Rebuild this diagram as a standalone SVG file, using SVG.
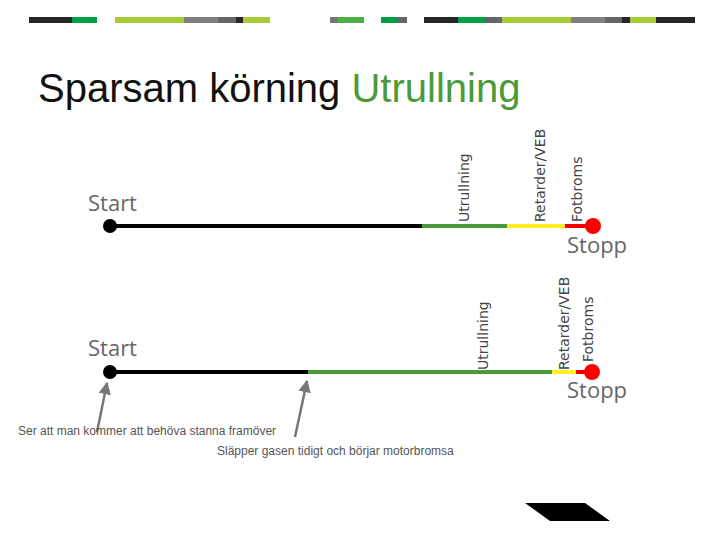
<svg xmlns="http://www.w3.org/2000/svg" width="720" height="540" viewBox="0 0 720 540">
<style>
.v{font-family:"DejaVu Sans",sans-serif;font-size:14px;fill:#444}
.s{font-family:"Open Sans","DejaVu Sans",sans-serif;font-size:22px;fill:#666}
.n{font-family:"Liberation Sans Narrow","Liberation Sans",sans-serif;font-size:12px;fill:#555}
.ln{stroke-width:4;fill:none}
</style>
<defs><marker id="ah" viewBox="0 0 10 10" refX="9" refY="5" markerWidth="5" markerHeight="5" orient="auto"><path d="M0,0L10,5L0,10z" fill="#777"/></marker></defs>
<g id="topbar">
<rect x="29" y="17" width="43" height="6" fill="#262626"/><rect x="72" y="17" width="25" height="6" fill="#00a046"/>
<rect x="115" y="17" width="69" height="6" fill="#a8cb38"/><rect x="184" y="17" width="34" height="6" fill="#808080"/>
<rect x="218" y="17" width="18" height="6" fill="#666"/><rect x="236" y="17" width="7" height="6" fill="#262626"/>
<rect x="243" y="17" width="27" height="6" fill="#a8cb38"/>
<rect x="330" y="17" width="8" height="6" fill="#777"/><rect x="338" y="17" width="26" height="6" fill="#4caf45"/>
<rect x="381" y="17" width="17" height="6" fill="#00a046"/><rect x="398" y="17" width="9" height="6" fill="#666"/>
<rect x="424" y="17" width="34" height="6" fill="#262626"/><rect x="458" y="17" width="27" height="6" fill="#00a046"/>
<rect x="485" y="17" width="17" height="6" fill="#666"/><rect x="502" y="17" width="69" height="6" fill="#a8cb38"/>
<rect x="571" y="17" width="34" height="6" fill="#808080"/><rect x="605" y="17" width="17" height="6" fill="#666"/>
<rect x="622" y="17" width="8" height="6" fill="#262626"/><rect x="630" y="17" width="26" height="6" fill="#a8cb38"/>
<rect x="656" y="17" width="39" height="6" fill="#262626"/>
</g>
<text x="38" y="102" font-family="Liberation Sans,sans-serif" font-size="40" fill="#111">Sparsam körning <tspan fill="#4a9a3a">Utrullning</tspan></text>
<g id="connectors">
<line class="ln" x1="110" y1="226" x2="422" y2="226" stroke="#000"/>
<line class="ln" x1="422" y1="226" x2="507" y2="226" stroke="#4a9a3a"/>
<line class="ln" x1="507" y1="226" x2="565" y2="226" stroke="#ffee22"/>
<line class="ln" x1="565" y1="226" x2="592" y2="226" stroke="#e00"/>
<line class="ln" x1="110" y1="372" x2="308" y2="372" stroke="#000"/>
<line class="ln" x1="308" y1="372" x2="552" y2="372" stroke="#4a9a3a"/>
<line class="ln" x1="552" y1="372" x2="576" y2="372" stroke="#ffee22"/>
<line class="ln" x1="576" y1="372" x2="592" y2="372" stroke="#e00"/>
<line x1="97" y1="432" x2="107" y2="383" stroke="#777" stroke-width="2.5" marker-end="url(#ah)"/>
<line x1="295" y1="437" x2="307" y2="381" stroke="#777" stroke-width="2.5" marker-end="url(#ah)"/>
</g>
<g id="route1">
<circle cx="110" cy="226" r="7" fill="#000"/><circle cx="593" cy="226" r="8" fill="#f00"/>
<text class="s" x="88" y="211">Start</text><text class="s" x="567" y="253">Stopp</text>
<text class="v" transform="translate(469,222) rotate(-90)">Utrullning</text>
<text class="v" transform="translate(545,222) rotate(-90)">Retarder/VEB</text>
<text class="v" transform="translate(582,222) rotate(-90)">Fotbroms</text>
</g>
<g id="route2">
<circle cx="110" cy="372" r="7" fill="#000"/><circle cx="592" cy="372" r="8" fill="#f00"/>
<text class="s" x="88" y="356">Start</text><text class="s" x="567" y="398">Stopp</text>
<text class="v" transform="translate(488,370) rotate(-90)">Utrullning</text>
<text class="v" transform="translate(569,370) rotate(-90)">Retarder/VEB</text>
<text class="v" transform="translate(593,362) rotate(-90)">Fotbroms</text>
</g>
<text class="n" x="18" y="435">Ser att man kommer att behöva stanna framöver</text>
<text class="n" x="217" y="455">Släpper gasen tidigt och börjar motorbromsa</text>
<polygon points="525,503 585,503 610,521 550,521" fill="#000"/>
</svg>
